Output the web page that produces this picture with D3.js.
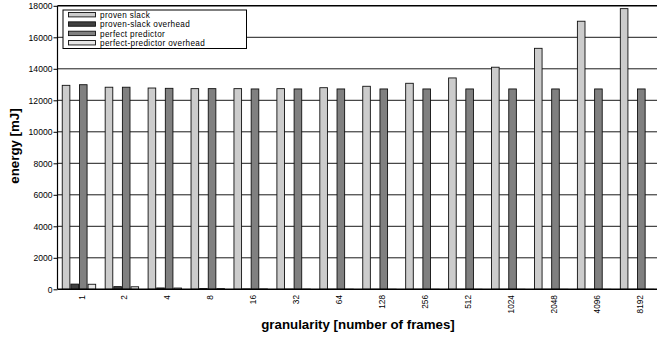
<!DOCTYPE html>
<html>
<head>
<meta charset="utf-8">
<script src="https://cdn.jsdelivr.net/npm/d3@7"></script>
<style>
  html, body { margin: 0; padding: 0; background: #fff; }
  svg { display: block; font-family: "Liberation Sans", Arial, Helvetica, sans-serif; }
</style>
</head>
<body>
<svg id="chart" width="657" height="339"></svg>
<script>
// Energy per granularity setting (mJ)
const granularities = ["1", "2", "4", "8", "16", "32", "64", "128", "256", "512", "1024", "2048", "4096", "8192"];
const provenSlack = [12950, 12830, 12780, 12740, 12740, 12740, 12800, 12890, 13080, 13420, 14100, 15300, 17020, 17820];
const provenSlackOverhead = [330, 170, 85, 45, 22, 11, 6, 3, 2, 1, 0.5, 0.3, 0.1, 0.1];
const perfectPredictor = [12990, 12830, 12760, 12740, 12720, 12720, 12720, 12720, 12720, 12720, 12720, 12720, 12720, 12720];
const perfectPredictorOverhead = [320, 160, 80, 40, 20, 10, 5, 3, 1.5, 1, 0.5, 0.3, 0.1, 0.1];
const yTicks = [0, 2000, 4000, 6000, 8000, 10000, 12000, 14000, 16000, 18000];

const seriesNames = ["proven slack", "proven-slack overhead", "perfect predictor", "perfect-predictor overhead"];
const seriesValues = [provenSlack, provenSlackOverhead, perfectPredictor, perfectPredictorOverhead];
const seriesFill = ["#cccccc", "#404040", "#808080", "#e6e6e6"];

const svg = d3.select("#chart");
const plotLeft = 57.5, plotRight = 658.5, plotTop = 5.8, plotBottom = 289.3;

const x0 = d3.scaleBand().domain(granularities).range([plotLeft, plotRight])
  .paddingInner(0.198).paddingOuter(0.099);
const x1 = d3.scaleBand().domain(d3.range(4)).range([0, x0.bandwidth()]);
const y = d3.scaleLinear().domain([0, 18000]).range([plotBottom, plotTop]);

// horizontal grid
svg.append("g").selectAll("line").data(yTicks.slice(1)).join("line")
  .attr("x1", plotLeft).attr("x2", 657)
  .attr("y1", d => y(d)).attr("y2", d => y(d))
  .attr("stroke", d => d === 18000 ? "#000" : "#1a1a1a")
  .attr("stroke-width", d => d === 18000 ? 1.6 : 1);

// bars
const groups = svg.append("g").selectAll("g").data(granularities).join("g")
  .attr("transform", d => `translate(${x0(d)},0)`);
groups.selectAll("rect").data((d, i) => seriesValues.map((vals, s) => ({ s, v: vals[i] })))
  .join("rect")
  .attr("x", d => x1(d.s) + 0.5)
  .attr("width", x1.bandwidth() - 1)
  .attr("y", d => y(d.v))
  .attr("height", d => plotBottom - y(d.v))
  .attr("fill", d => seriesFill[d.s])
  .attr("stroke", "#111")
  .attr("stroke-width", 0.9);

// y axis
const yAxis = d3.axisLeft(y).tickValues(yTicks).tickSize(4).tickPadding(1).tickFormat(d3.format("d"));
const gy = svg.append("g").attr("transform", `translate(${plotLeft},0)`).call(yAxis);
gy.select(".domain").attr("stroke", "#000").attr("stroke-width", 1.2).attr("d", `M0,${plotBottom}V${plotTop}`);
gy.selectAll(".tick line").attr("stroke", "#000");
gy.selectAll("text").attr("font-size", 8.6).attr("fill", "#000")
  .attr("font-family", "'Liberation Sans', Arial, sans-serif");

// x axis baseline
svg.append("line").attr("x1", plotLeft).attr("x2", 657).attr("y1", plotBottom).attr("y2", plotBottom)
  .attr("stroke", "#000").attr("stroke-width", 1.4);

// x tick labels, rotated
svg.append("g").selectAll("text").data(granularities).join("text")
  .attr("transform", d => `translate(${x0(d) + x0.bandwidth() / 2 + 5.6},295) rotate(-90)`)
  .attr("text-anchor", "end")
  .attr("font-size", 8.3)
  .text(d => d);

// axis titles
svg.append("text").attr("x", (plotLeft + plotRight) / 2).attr("y", 329)
  .attr("text-anchor", "middle").attr("font-size", 13.3).attr("font-weight", "bold")
  .text("granularity [number of frames]");
svg.append("text").attr("transform", "translate(18.5,146) rotate(-90)")
  .attr("text-anchor", "middle").attr("font-size", 13.3).attr("font-weight", "bold")
  .text("energy [mJ]");

// legend
const lg = svg.append("g");
lg.append("rect").attr("x", 63).attr("y", 10).attr("width", 183.5).attr("height", 38.5)
  .attr("fill", "#fff").attr("stroke", "#000").attr("stroke-width", 1);
const rows = lg.selectAll("g").data(seriesNames).join("g")
  .attr("transform", (d, i) => `translate(0,${14.7 + i * 9.35})`);
rows.append("rect").attr("x", 68.5).attr("y", -2.2).attr("width", 27).attr("height", 4.4)
  .attr("fill", (d, i) => seriesFill[i]).attr("stroke", "#111").attr("stroke-width", 0.9);
rows.append("text").attr("x", 100).attr("y", 3.1).attr("font-size", 8.2)
  .attr("letter-spacing", 0.35).text(d => d);
</script>
</body>
</html>
